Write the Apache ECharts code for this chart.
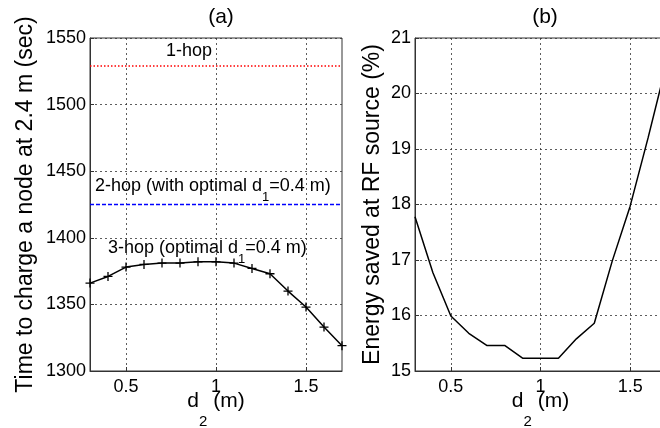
<!DOCTYPE html>
<html><head><meta charset="utf-8">
<script src="https://cdn.jsdelivr.net/npm/echarts@6/dist/echarts.min.js"></script>
<style>html,body{margin:0;padding:0;background:#fff}#c{width:660px;height:428px}</style>
</head><body><div id="c"></div>
<script>
const d2 = [0.3,0.4,0.5,0.6,0.7,0.8,0.9,1.0,1.1,1.2,1.3,1.4,1.5,1.6,1.7];
const hop3Time = [1366,1371,1378,1380,1381,1381,1382,1382,1381,1377,1373,1360,1348,1333,1319];
const hop1Time = 1529;
const hop2Time = 1425;
const energySaved = [17.78,16.77,15.99,15.68,15.46,15.46,15.23,15.23,15.23,15.58,15.86,16.98,17.97,19.2,20.5];
const xTicks = [0.5,1,1.5];
const leftYTicks = {min:1300,max:1550,step:50};
const rightYTicks = {min:15,max:21,step:1};

const FONT = 'Liberation Sans, Arial, sans-serif';
const gridLine = {show:true, lineStyle:{color:'#333', width:0.8, type:[2,3]}};
const axLine = {show:true, lineStyle:{color:'#333', width:1}};
const sub = {
  a:{fontSize:21, fontFamily:FONT, color:'#000', lineHeight:22, verticalAlign:'top'},
  s:{fontSize:15, fontFamily:FONT, color:'#000', lineHeight:15, verticalAlign:'top', padding:[23,0,0,0]}
};
const annSub = {
  a:{fontSize:18, fontFamily:FONT, color:'#000', lineHeight:20, verticalAlign:'top'},
  s:{fontSize:13, fontFamily:FONT, color:'#000', lineHeight:13, verticalAlign:'top', padding:[14,0,0,0]}
};
function xAx(i){
  return {gridIndex:i, type:'value', min:d2[0], max:d2[d2.length-1],
    name:'{a|d}{s|2}{a| (m)}', nameLocation:'middle', nameGap:20, nameMoveOverlap:false,
    nameTextStyle:{rich:sub},
    axisLine:axLine, axisTick:{show:true, inside:true, length:4, customValues:xTicks, lineStyle:{color:'#333'}},
    axisLabel:{customValues:xTicks, fontSize:18, fontFamily:FONT, color:'#000', margin:7},
    splitLine:gridLine};
}
function yAx(i, t, name, gap){
  return {gridIndex:i, type:'value', min:t.min, max:t.max, interval:t.step,
    name:name, nameLocation:'middle', nameGap:gap,
    nameTextStyle:{fontSize:23, fontFamily:FONT, color:'#000'},
    axisLine:axLine, axisTick:{show:true, inside:true, length:4, lineStyle:{color:'#333'}},
    axisLabel:{fontSize:18, fontFamily:FONT, color:'#000', margin:4, formatter:v=>String(v)},
    splitLine:gridLine};
}
const chart = echarts.init(document.getElementById('c'), null, {renderer:'canvas'});
chart.setOption({
  animation:false,
  backgroundColor:'#fff',
  title:[
    {text:'(a)', left:216, top:2, textAlign:'center', textStyle:{fontSize:21, fontWeight:'normal', fontFamily:FONT, color:'#000'}},
    {text:'(b)', left:540, top:2, textAlign:'center', textStyle:{fontSize:21, fontWeight:'normal', fontFamily:FONT, color:'#000'}}
  ],
  grid:[
    {left:90, top:38, width:252, height:333, show:true, borderColor:'#333', borderWidth:1, containLabel:false, outerBoundsMode:'none'},
    {left:415, top:38, width:251, height:333, show:true, borderColor:'#333', borderWidth:1, containLabel:false, outerBoundsMode:'none'}
  ],
  xAxis:[xAx(0), xAx(1)],
  yAxis:[yAx(0, leftYTicks, 'Time to charge a node at 2.4 m (sec)', 53), yAx(1, rightYTicks, 'Energy saved at RF source (%)', 31)],
  series:[
    {type:'line', xAxisIndex:0, yAxisIndex:0, data:[[d2[0],hop1Time],[d2[d2.length-1],hop1Time]],
      showSymbol:false, lineStyle:{color:'#ff0000', width:1.5, type:[1.5,2]}},
    {type:'line', xAxisIndex:0, yAxisIndex:0, data:[[d2[0],hop2Time],[d2[d2.length-1],hop2Time]],
      showSymbol:false, lineStyle:{color:'#0000ff', width:1.5, type:[4,2]}},
    {type:'line', xAxisIndex:0, yAxisIndex:0, data:d2.map((x,i)=>[x,hop3Time[i]]),
      symbol:'path://M5,0L5,10M0,5L10,5', symbolSize:9, showSymbol:true,
      itemStyle:{color:'#000', borderColor:'#000', borderWidth:1.3},
      lineStyle:{color:'#000', width:1.5}},
    {type:'line', xAxisIndex:1, yAxisIndex:1, data:d2.map((x,i)=>[x,energySaved[i]]),
      showSymbol:false, lineStyle:{color:'#000', width:1.5}}
  ],
  graphic:[
    {type:'text', left:166, top:42, style:{text:'1-hop', font:'18px '+FONT, fill:'#000'}},
    {type:'text', left:95, top:177, style:{text:'{a|2-hop (with optimal d}{s|1}{a|=0.4 m)}', rich:annSub}},
    {type:'text', left:108, top:239, style:{text:'{a|3-hop (optimal d}{s|1}{a|=0.4 m)}', rich:annSub}}
  ]
});
</script></body></html>
